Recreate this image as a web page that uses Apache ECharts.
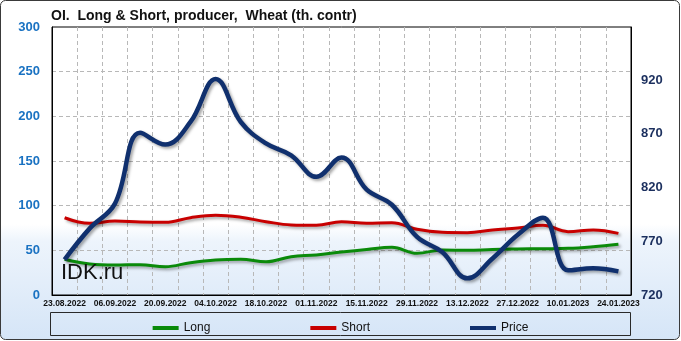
<!DOCTYPE html>
<html>
<head>
<meta charset="utf-8">
<script src="https://cdn.jsdelivr.net/npm/echarts@6/dist/echarts.min.js"></script>
<style>
html,body{margin:0;padding:0;background:#fff;}
#c{width:681px;height:341px;}
</style>
</head>
<body>
<div id="c"></div>
<script>
var categories = ['23.08.2022','30.08.2022','06.09.2022','13.09.2022','20.09.2022','27.09.2022','04.10.2022','11.10.2022','18.10.2022','25.10.2022','01.11.2022','08.11.2022','15.11.2022','22.11.2022','29.11.2022','06.12.2022','13.12.2022','20.12.2022','27.12.2022','03.01.2023','10.01.2023','17.01.2023','24.01.2023'];
var longValues = [40, 34.7, 33.6, 34, 31.7, 36.2, 39.2, 40, 37.3, 42.9, 44.8, 48.1, 51, 53.4, 46.7, 50.4, 50, 51, 51.5, 51.8, 52.2, 54, 56.7];
var shortValues = [86.5, 80.2, 82.8, 81.7, 81.3, 86.5, 89.2, 87, 82.1, 78.4, 78, 82, 80.2, 81, 73.5, 70.2, 69.8, 72.8, 75, 78, 70.9, 72.8, 69];
var priceValues = [753, 782, 805, 871, 860, 881, 921, 881, 861, 850, 830, 848, 818, 804, 774, 760, 735.5, 754, 776, 792, 743, 745, 742];
var leftTicks = {min: 0, max: 300, interval: 50};
var rightTicks = {min: 720, max: 969.4, interval: 50};
var titleText = 'OI.  Long & Short, producer,  Wheat (th. contr)';
var watermark = 'IDK.ru';

var chart = echarts.init(document.getElementById('c'), null, {renderer: 'canvas'});
var FONT = '"Liberation Sans", Arial, sans-serif';
var shadow = {shadowColor: 'rgba(0,0,0,0.35)', shadowBlur: 3, shadowOffsetX: 2, shadowOffsetY: 2};
var frameLine = {show: true, lineStyle: {color: '#000', width: 1}};

chart.setOption({
  animation: false,
  backgroundColor: 'transparent',
  graphic: [
    {type: 'rect', z: -10, silent: true,
     shape: {x: 0.5, y: 0.5, width: 679, height: 339, r: 5},
     style: {fill: new echarts.graphic.LinearGradient(0, 0, 0, 1, [
        {offset: 0, color: '#ffffff'}, {offset: 0.66, color: '#ffffff'},
        {offset: 0.71, color: '#edf4fc'}, {offset: 1, color: '#d5e5f7'}]),
       stroke: '#3a3a3a', lineWidth: 1}},
    {type: 'rect', z: -5, silent: true,
     shape: {x: 50.5, y: 312.5, width: 580, height: 23},
     style: {fill: 'transparent', stroke: '#2a2a2a', lineWidth: 1}},
    {type: 'text', z: 5, left: 61, top: 262, silent: true,
     style: {text: watermark, fill: '#111', font: '22px ' + FONT}}
  ],
  title: {
    text: titleText, left: 46, top: 4,
    textStyle: {fontFamily: FONT, fontWeight: 'bold', fontSize: 14, color: '#111'}
  },
  legend: {
    data: ['Long', 'Short', 'Price'],
    left: 'center', top: 317, itemGap: 100, itemWidth: 26, itemHeight: 4, icon: 'rect',
    textStyle: {fontFamily: FONT, fontSize: 12, color: '#111'}
  },
  grid: {
    left: 52, right: 50, top: 27, bottom: 46,
    show: true, borderColor: '#000', borderWidth: 1, backgroundColor: 'transparent'
  },
  xAxis: {
    type: 'category', data: categories, boundaryGap: true,
    axisLine: frameLine, axisTick: {show: false},
    axisLabel: {interval: 1, margin: 4, fontFamily: FONT, fontWeight: 'bold', fontSize: 8.5, color: '#111'},
    splitLine: {show: true, interval: 0, showMinLine: false, showMaxLine: false,
      lineStyle: {type: [4, 3], color: '#b8b8b8', width: 1}}
  },
  yAxis: [
    {type: 'value', min: leftTicks.min, max: leftTicks.max, interval: leftTicks.interval,
     axisLine: frameLine, axisTick: {show: false},
     axisLabel: {margin: 12, fontFamily: FONT, fontWeight: 'bold', fontSize: 13, color: '#1a72c2'},
     splitLine: {show: true, showMinLine: false, showMaxLine: false,
       lineStyle: {type: [4, 3], color: '#b8b8b8', width: 1}}},
    {type: 'value', position: 'right', min: rightTicks.min, max: rightTicks.max, interval: rightTicks.interval,
     axisLine: frameLine, axisTick: {show: false},
     axisLabel: {margin: 10, showMaxLabel: false, fontFamily: FONT, fontWeight: 'bold', fontSize: 13, color: '#1b2f5e',
       formatter: function (v) { return (v % 50 === 20 || v % 50 === -30) ? String(v) : ''; }},
     splitLine: {show: false}}
  ],
  series: [
    {name: 'Long', type: 'line', yAxisIndex: 0, data: longValues, smooth: 0.4, symbol: 'none',
     color: '#0a8a0a', lineStyle: Object.assign({width: 3, color: '#0a8a0a'}, shadow)},
    {name: 'Short', type: 'line', yAxisIndex: 0, data: shortValues, smooth: 0.4, symbol: 'none',
     color: '#c80000', lineStyle: Object.assign({width: 3, color: '#c80000'}, shadow)},
    {name: 'Price', type: 'line', yAxisIndex: 1, data: priceValues, smooth: 0.4, symbol: 'none',
     color: '#10306e', lineStyle: Object.assign({width: 4.5, color: '#10306e'}, shadow)}
  ]
});
</script>
</body>
</html>
